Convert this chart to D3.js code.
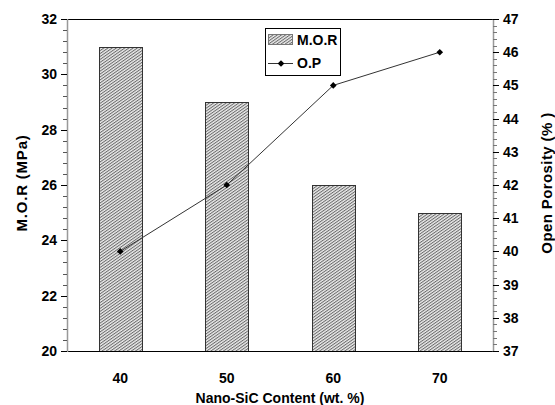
<!DOCTYPE html>
<html>
<head>
<meta charset="utf-8">
<script src="https://cdnjs.cloudflare.com/ajax/libs/d3/7.8.5/d3.min.js"></script>
<style>
  body { margin: 0; background: #fff; }
  svg text { font-family: "Liberation Sans", Arial, sans-serif; font-weight: bold; fill: #000; }
</style>
</head>
<body>
<svg id="chart" width="555" height="405"></svg>
<script>
// data
var contents = ["40", "50", "60", "70"];
var morValues = [31, 29, 26, 25];
var opValues = [40, 42, 45, 46];
var leftTicks = [20, 22, 24, 26, 28, 30, 32];
var rightTicks = [37, 38, 39, 40, 41, 42, 43, 44, 45, 46, 47];

var svg = d3.select("#chart");
var plotLeft = 67, plotRight = 493, plotTop = 19, plotBottom = 351;

var x = d3.scaleBand().domain(contents).range([plotLeft, plotRight])
    .paddingInner(0.6).paddingOuter(0.3);
var yL = d3.scaleLinear().domain([20, 32]).range([plotBottom, plotTop]);
var yR = d3.scaleLinear().domain([37, 47]).range([plotBottom, plotTop]);

// hatch pattern for bars
var defs = svg.append("defs");
var pat = defs.append("pattern")
    .attr("id", "hatch")
    .attr("patternUnits", "userSpaceOnUse")
    .attr("width", 2.4).attr("height", 2.4)
    .attr("patternTransform", "rotate(-35)");
pat.append("rect").attr("width", 2.4).attr("height", 2.4).attr("fill", "#ececec");
pat.append("rect").attr("width", 2.4).attr("height", 1).attr("fill", "#6a6a6a");

// bars
svg.selectAll(".bar")
    .data(morValues)
    .enter().append("rect")
    .attr("class", "bar")
    .attr("x", function(d, i) { return Math.round(x(contents[i])) + 0.5; })
    .attr("width", Math.round(x.bandwidth()))
    .attr("y", function(d) { return Math.round(yL(d)) + 0.5; })
    .attr("height", function(d) { return plotBottom - Math.round(yL(d)); })
    .attr("fill", "url(#hatch)")
    .attr("stroke", "#333")
    .attr("stroke-width", 1);

// frame: top and bottom lines
svg.append("line").attr("x1", plotLeft).attr("x2", plotRight).attr("y1", plotTop + 0.5).attr("y2", plotTop + 0.5)
    .attr("stroke", "#000");
svg.append("line").attr("x1", plotLeft).attr("x2", plotRight).attr("y1", plotBottom + 0.5).attr("y2", plotBottom + 0.5)
    .attr("stroke", "#000");

// left axis
var gL = svg.append("g");
gL.append("line").attr("x1", plotLeft + 0.5).attr("x2", plotLeft + 0.5).attr("y1", plotTop).attr("y2", plotBottom + 1)
    .attr("stroke", "#999").attr("stroke-width", 1.5);
var leftMinor = d3.range(20, 32.01, 0.4);
gL.selectAll(".mt").data(leftMinor).enter().append("line")
    .attr("x1", plotLeft - 4).attr("x2", plotLeft)
    .attr("y1", function(d) { return Math.round(yL(d)) + 0.5; })
    .attr("y2", function(d) { return Math.round(yL(d)) + 0.5; })
    .attr("stroke", "#555");
gL.selectAll(".MT").data(leftTicks).enter().append("line")
    .attr("x1", plotLeft - 6).attr("x2", plotLeft)
    .attr("y1", function(d) { return Math.round(yL(d)) + 0.5; })
    .attr("y2", function(d) { return Math.round(yL(d)) + 0.5; })
    .attr("stroke", "#000");
gL.selectAll("text").data(leftTicks).enter().append("text")
    .attr("x", 57).attr("y", function(d) { return yL(d); })
    .attr("dy", "0.36em")
    .attr("text-anchor", "end")
    .style("font-size", "14px")
    .text(function(d) { return d; });

// right axis
var gR = svg.append("g");
gR.append("line").attr("x1", plotRight + 0.5).attr("x2", plotRight + 0.5).attr("y1", plotTop).attr("y2", plotBottom + 1)
    .attr("stroke", "#999").attr("stroke-width", 1.5);
var rightMinor = d3.range(37, 47.01, 0.2);
gR.selectAll(".mt").data(rightMinor).enter().append("line")
    .attr("x1", plotRight).attr("x2", plotRight + 4)
    .attr("y1", function(d) { return Math.round(yR(d)) + 0.5; })
    .attr("y2", function(d) { return Math.round(yR(d)) + 0.5; })
    .attr("stroke", "#777");
gR.selectAll(".MT").data(rightTicks).enter().append("line")
    .attr("x1", plotRight).attr("x2", plotRight + 6)
    .attr("y1", function(d) { return Math.round(yR(d)) + 0.5; })
    .attr("y2", function(d) { return Math.round(yR(d)) + 0.5; })
    .attr("stroke", "#000");
gR.selectAll("text").data(rightTicks).enter().append("text")
    .attr("x", 503).attr("y", function(d) { return yR(d); })
    .attr("dy", "0.36em")
    .style("font-size", "14px")
    .text(function(d) { return d; });

// x labels
svg.selectAll(".xl").data(contents).enter().append("text")
    .attr("x", function(d) { return x(d) + x.bandwidth() / 2; })
    .attr("y", 383)
    .attr("text-anchor", "middle")
    .style("font-size", "14px")
    .text(function(d) { return d; });

// axis titles
svg.append("text").attr("x", 280).attr("y", 403)
    .attr("text-anchor", "middle").style("font-size", "14px")
    .text("Nano-SiC Content (wt. %)");
svg.append("text")
    .attr("transform", "translate(27,183) rotate(-90)")
    .attr("text-anchor", "middle").style("font-size", "15px")
    .style("letter-spacing", "0.8px")
    .text("M.O.R (MPa)");
svg.append("text")
    .attr("transform", "translate(552,183) rotate(-90)")
    .attr("text-anchor", "middle").style("font-size", "15px")
    .style("letter-spacing", "0.4px")
    .text("Open Porosity (% )");

// O.P line
var line = d3.line()
    .x(function(d, i) { return x(contents[i]) + x.bandwidth() / 2; })
    .y(function(d) { return yR(d); });
svg.append("path").datum(opValues)
    .attr("d", line)
    .attr("fill", "none")
    .attr("stroke", "#333")
    .attr("stroke-width", 1);
// square rotated 45deg = even diamond
var diamond = d3.symbol().type(d3.symbolSquare).size(22);
svg.selectAll(".pt").data(opValues).enter().append("path")
    .attr("d", diamond)
    .attr("transform", function(d, i) {
        return "translate(" + (x(contents[i]) + x.bandwidth() / 2) + "," + yR(d) + ") rotate(45)";
    })
    .attr("fill", "#000");

// legend
var lg = svg.append("g");
lg.append("rect").attr("x", 265.5).attr("y", 28.5).attr("width", 75).attr("height", 47)
    .attr("fill", "#fff").attr("stroke", "#000");
lg.append("rect").attr("x", 268.5).attr("y", 34.5).attr("width", 24).attr("height", 10)
    .attr("fill", "url(#hatch)").attr("stroke", "#777");
lg.append("text").attr("x", 297).attr("y", 45).style("font-size", "14px").text("M.O.R");
lg.append("line").attr("x1", 268).attr("x2", 293).attr("y1", 63.5).attr("y2", 63.5)
    .attr("stroke", "#333");
lg.append("path").attr("d", diamond).attr("transform", "translate(281,63.5) rotate(45)").attr("fill", "#000");
lg.append("text").attr("x", 297).attr("y", 68).style("font-size", "14px").text("O.P");
</script>
</body>
</html>
